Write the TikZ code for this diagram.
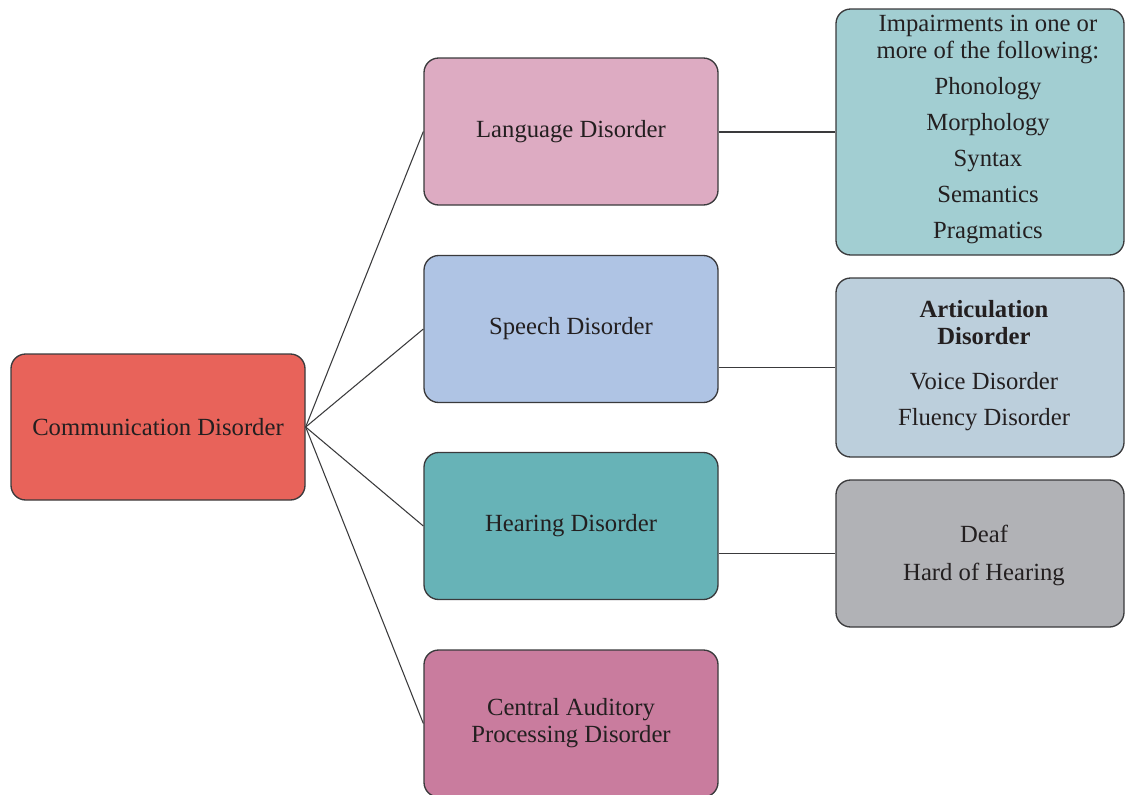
\documentclass[tikz,border=0pt]{standalone}
\usepackage{fontspec}
\setmainfont{Liberation Serif}
\definecolor{txt}{HTML}{231F20}
\definecolor{edge}{HTML}{3A3A3C}
\definecolor{commc}{HTML}{E8635A}
\definecolor{langc}{HTML}{DDABC2}
\definecolor{speechc}{HTML}{AFC4E4}
\definecolor{hearc}{HTML}{67B3B7}
\definecolor{capdc}{HTML}{C97C9E}
\definecolor{tealc}{HTML}{A2CED2}
\definecolor{artc}{HTML}{BCCFDC}
\definecolor{deafc}{HTML}{B1B2B6}
\begin{document}
\begin{tikzpicture}[x=0.75pt,y=-0.75pt,
  lbl/.style={align=center, text=txt, inner sep=0pt,
    font=\fontsize{18.5}{20.25}\selectfont},
  box/.style={lbl, draw=edge, line width=1pt, rounded corners=11pt},
  midbox/.style={box, minimum width=220.5pt, minimum height=110.25pt},
  rbox/.style={box, minimum width=216pt},
  conn/.style={draw=edge, line width=0.8pt}]
\useasboundingbox (0,0) rectangle (1125,794);
\node[box, fill=commc, minimum width=220.5pt, minimum height=109.5pt] (comm) at (158,427) {Communication Disorder};
\node[midbox, fill=langc] (lang) at (571,131.5) {Language Disorder};
\node[midbox, fill=speechc] (speech) at (571,329) {Speech Disorder};
\node[midbox, fill=hearc] (hear) at (571,526) {Hearing Disorder};
\node[midbox, fill=capdc] (capd) at (571,723.5) {Central Auditory\\Processing Disorder};
\node[rbox, fill=tealc, minimum height=184.5pt] (impair) at (980,132) {};
\node[lbl] (impairtxt) at (988,129) {Impairments in one or\\more of the following:\\[6.75pt]Phonology\\[6.75pt]Morphology\\[6.75pt]Syntax\\[6.75pt]Semantics\\[6.75pt]Pragmatics};
\node[rbox, fill=artc, minimum height=134.25pt] (artic) at (980,367.5) {};
\node[lbl] (artictxt) at (984,366) {\textbf{Articulation}\\\textbf{Disorder}\\[13.5pt]Voice Disorder\\[6.75pt]Fluency Disorder};
\node[rbox, fill=deafc, minimum height=110.25pt] (deaf) at (980,553.5) {};
\node[lbl] (deaftxt) at (984,555.5) {Deaf\\[8.25pt]Hard of Hearing};
\draw[conn] (comm.east) -- (lang.west);
\draw[conn] (comm.east) -- (speech.west);
\draw[conn] (comm.east) -- (hear.west);
\draw[conn] (comm.east) -- (capd.west);
\draw[conn] (impair.west) -- (impair.west -| lang.east);
\draw[conn] (artic.west) -- (artic.west -| speech.east);
\draw[conn] (deaf.west) -- (deaf.west -| hear.east);
\end{tikzpicture}
\end{document}
